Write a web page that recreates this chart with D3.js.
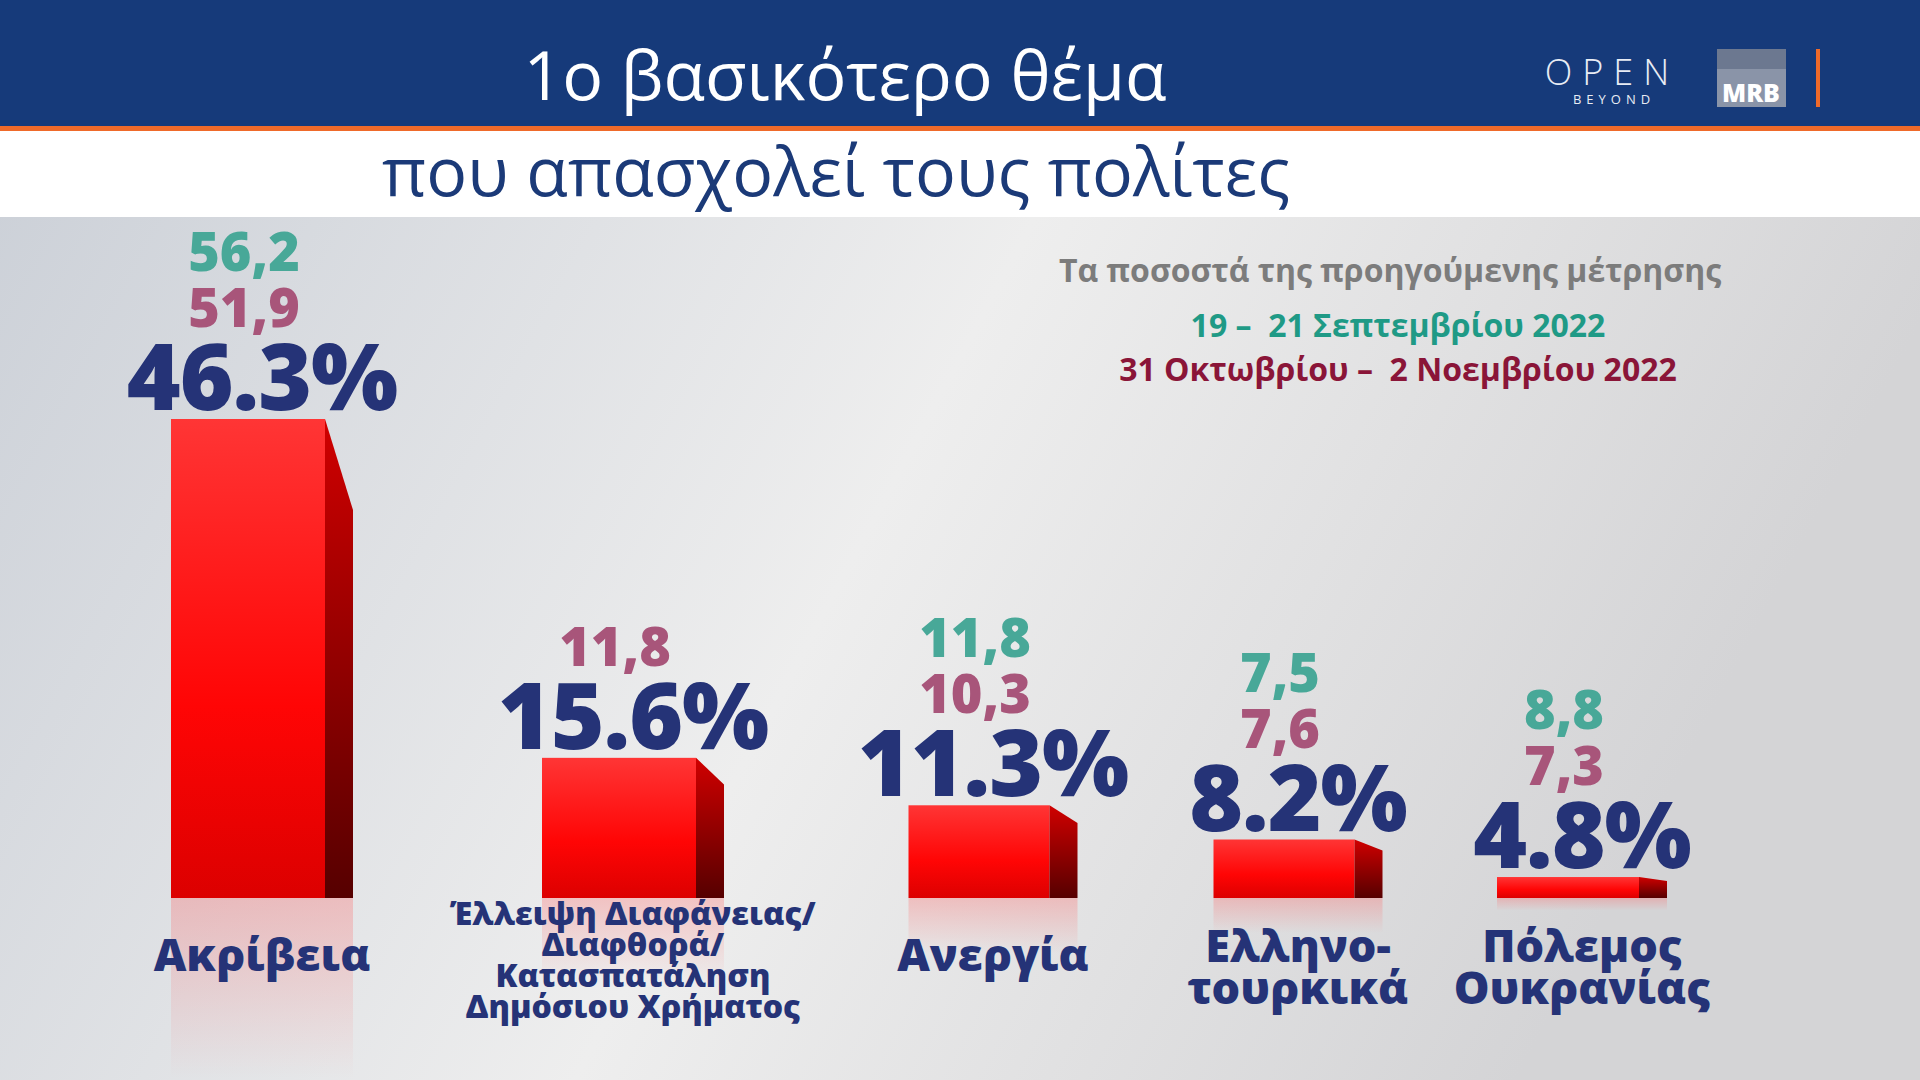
<!DOCTYPE html>
<html><head><meta charset="utf-8">
<script src="https://cdn.jsdelivr.net/npm/d3@7"></script>
<style>body{margin:0;overflow:hidden}svg{display:block;font-family:"Open Sans",sans-serif}</style>
</head><body>
<script>
var categories = ["Ακρίβεια", "Διαφάνεια", "Ανεργία", "Ελληνοτουρκικά", "Ουκρανία"];
var labels = [["Ακρίβεια"], ["Έλλειψη Διαφάνειας/", "Διαφθορά/", "Κατασπατάληση", "Δημόσιου Χρήματος"], ["Ανεργία"], ["Ελληνο-", "τουρκικά"], ["Πόλεμος", "Ουκρανίας"]];
var current = [46.3, 15.6, 11.3, 8.2, 4.8];
var septValues = ["56,2", null, "11,8", "7,5", "8,8"];
var octValues = ["51,9", "11,8", "10,3", "7,6", "7,3"];

var W = 1920, H = 1080;
var svg = d3.select("body").append("svg").attr("width", W).attr("height", H);
var defs = svg.append("defs");

// background
var bg = defs.append("linearGradient").attr("id", "bg").attr("x1", 0).attr("x2", 1).attr("y1", 0).attr("y2", 0.3);
bg.append("stop").attr("offset", 0).attr("stop-color", "#c9ced6");
bg.append("stop").attr("offset", 0.55).attr("stop-color", "#eeeeee");
bg.append("stop").attr("offset", 1).attr("stop-color", "#d4d4d6");
svg.append("rect").attr("width", W).attr("height", H).attr("fill", "url(#bg)");

// header
svg.append("rect").attr("width", W).attr("height", 128).attr("fill", "#163a7a");
svg.append("rect").attr("y", 126).attr("width", W).attr("height", 5).attr("fill", "#ef6a2a");
svg.append("rect").attr("y", 131).attr("width", W).attr("height", 86).attr("fill", "#ffffff");
svg.append("text").attr("x", 845).attr("y", 100).attr("text-anchor", "middle")
  .attr("fill", "#fff").attr("font-size", 68).attr("font-weight", 500).text("1ο βασικότερο θέμα");
svg.append("text").attr("x", 836).attr("y", 196).attr("text-anchor", "middle")
  .attr("fill", "#1b3a78").attr("font-size", 68).attr("font-weight", 500).text("που απασχολεί τους πολίτες");

// logos
svg.append("text").attr("x", 1612).attr("y", 85).attr("text-anchor", "middle").attr("fill", "#e8ecf4")
  .attr("font-size", 36).attr("font-weight", 300).attr("letter-spacing", 10).text("OPEN");
svg.append("text").attr("x", 1614).attr("y", 104).attr("text-anchor", "middle").attr("fill", "#e8ecf4")
  .attr("font-size", 13).attr("letter-spacing", 5).text("BEYOND");
svg.append("rect").attr("x", 1717).attr("y", 49).attr("width", 69).attr("height", 58).attr("fill", "#8a94a8");
svg.append("rect").attr("x", 1717).attr("y", 49).attr("width", 69).attr("height", 20).attr("fill", "#6c7890");
svg.append("text").attr("x", 1751).attr("y", 102).attr("text-anchor", "middle").attr("fill", "#fff")
  .attr("font-size", 25).attr("font-weight", 800).text("MRB");
svg.append("rect").attr("x", 1816).attr("y", 49).attr("width", 4).attr("height", 58).attr("fill", "#ef6a2a");

// legend
svg.append("text").attr("x", 1390).attr("y", 282).attr("text-anchor", "middle").attr("fill", "#7c7c7c")
  .attr("font-size", 32).attr("font-weight", 700).text("Τα ποσοστά της προηγούμενης μέτρησης");
svg.append("text").attr("x", 1398).attr("y", 337).attr("text-anchor", "middle").attr("fill", "#1f9a86")
  .attr("font-size", 32).attr("font-weight", 700).attr("xml:space", "preserve").text("19 –  21 Σεπτεμβρίου 2022");
svg.append("text").attr("x", 1398).attr("y", 381).attr("text-anchor", "middle").attr("fill", "#8a1538")
  .attr("font-size", 32).attr("font-weight", 700).attr("xml:space", "preserve").text("31 Οκτωβρίου –  2 Νοεμβρίου 2022");

// scales
var base = 898;
var x = d3.scaleOrdinal().domain(categories).range([262, 633, 993, 1298, 1582]);
var h = d3.scaleLinear().domain([2.9, 46.3]).range([0, 479]);
var bws = [154, 154, 141, 141, 142], sw = 28;

var fg = defs.append("linearGradient").attr("id", "front").attr("x1", 0).attr("x2", 0).attr("y1", 0).attr("y2", 1);
fg.append("stop").attr("offset", 0).attr("stop-color", "#ff3535");
fg.append("stop").attr("offset", 0.6).attr("stop-color", "#ff0505");
fg.append("stop").attr("offset", 1).attr("stop-color", "#dc0000");
var sg = defs.append("linearGradient").attr("id", "side").attr("x1", 0).attr("x2", 0).attr("y1", 0).attr("y2", 1);
sg.append("stop").attr("offset", 0).attr("stop-color", "#d00000");
sg.append("stop").attr("offset", 1).attr("stop-color", "#560000");
var rg = defs.append("linearGradient").attr("id", "refl").attr("x1", 0).attr("x2", 0).attr("y1", 0).attr("y2", 1);
rg.append("stop").attr("offset", 0).attr("stop-color", "#ff6060").attr("stop-opacity", 0.3);
rg.append("stop").attr("offset", 1).attr("stop-color", "#ff6060").attr("stop-opacity", 0);

var g = svg.selectAll("g.bar").data(categories).enter().append("g").attr("class", "bar")
  .attr("transform", function(d, i) { return "translate(" + (x(d) - (bws[i] + sw) / 2) + ",0)"; });

g.append("rect").attr("x", 0).attr("y", base).attr("width", function(d, i) { return bws[i] + sw; })
  .attr("height", function(d, i) { return Math.min(h(current[i]) * 0.6, 180); }).attr("fill", "url(#refl)");
g.append("rect").attr("x", 0).attr("width", function(d, i) { return bws[i]; })
  .attr("y", function(d, i) { return base - h(current[i]); })
  .attr("height", function(d, i) { return h(current[i]); }).attr("fill", "url(#front)");
g.append("path").attr("fill", "url(#side)").attr("d", function(d, i) {
  var t = base - h(current[i]), off = h(current[i]) * 0.19, bw = bws[i];
  return "M" + bw + "," + t + "L" + (bw + sw) + "," + (t + off) + "L" + (bw + sw) + "," + base + "L" + bw + "," + base + "Z";
});

var cx = function(d, i) { return (bws[i] + sw) / 2; };
g.append("text").attr("x", cx).attr("text-anchor", "middle")
  .attr("y", function(d, i) { return base - h(current[i]) - 9; })
  .attr("fill", "#253377").attr("font-size", 92).attr("font-weight", 800).attr("letter-spacing", -1)
  .text(function(d, i) { return current[i].toFixed(1) + "%"; });
g.append("text").attr("x", function(d, i) { return cx(d, i) - 18; }).attr("text-anchor", "middle")
  .attr("y", function(d, i) { return base - h(current[i]) - 92; })
  .attr("fill", "#a8557a").attr("font-size", 54).attr("font-weight", 800)
  .text(function(d, i) { return octValues[i]; });
g.append("text").attr("x", function(d, i) { return cx(d, i) - 18; }).attr("text-anchor", "middle")
  .attr("y", function(d, i) { return base - h(current[i]) - 148; })
  .attr("fill", "#48a898").attr("font-size", 54).attr("font-weight", 800)
  .text(function(d, i) { return septValues[i]; });

g.each(function(d, i) {
  var lines = labels[i];
  var small = lines.length > 2;
  var fs = small ? 32 : 45, lh = small ? 31 : 42;
  var y0 = lines.length === 1 ? 971 : (small ? 925 : 962);
  d3.select(this).selectAll("text.lab").data(lines).enter().append("text").attr("class", "lab")
    .attr("x", cx(d, i)).attr("y", function(l, j) { return y0 + j * lh; }).attr("text-anchor", "middle")
    .attr("fill", "#253377").attr("font-size", fs).attr("font-weight", 800).text(function(l) { return l; });
});
</script>
</body></html>
